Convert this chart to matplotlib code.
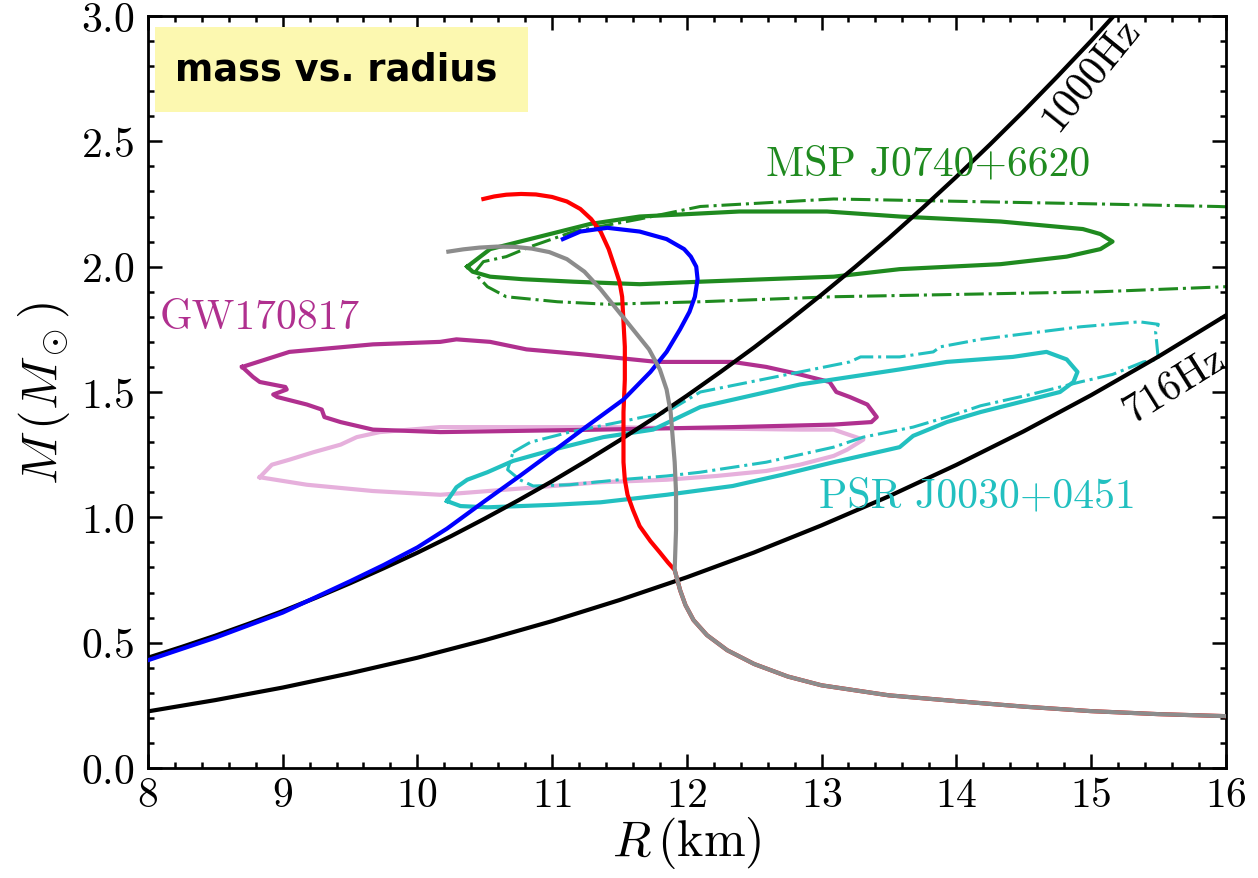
import matplotlib
matplotlib.use("Agg")
import matplotlib.pyplot as plt
from matplotlib.patches import Rectangle
from matplotlib.ticker import MultipleLocator

plt.rcParams['font.family'] = 'serif'
plt.rcParams['font.serif'] = ['cmr10']
plt.rcParams['mathtext.fontset'] = 'cm'
plt.rcParams['axes.formatter.use_mathtext'] = True

# ---------------- data ----------------
# Kepler (mass-shedding) frequency lines
kep1000_R = [8.0, 8.25, 8.5, 8.75, 9.0, 9.25, 9.5, 9.75, 10.0, 10.25, 10.5, 10.75, 11.0, 11.25, 11.5, 11.75,
             12.0, 12.25, 12.5, 12.75, 13.0, 13.25, 13.5, 13.75, 14.0, 14.25, 14.5, 14.75, 15.0, 15.25]
kep1000_M = [0.440, 0.483, 0.528, 0.576, 0.626, 0.680, 0.737, 0.797, 0.859, 0.925, 0.995, 1.068, 1.144, 1.224, 1.307, 1.394,
             1.485, 1.580, 1.678, 1.781, 1.888, 1.999, 2.114, 2.234, 2.358, 2.487, 2.620, 2.758, 2.900, 3.048]
kep716_R = [8.0, 8.5, 9.0, 9.5, 10.0, 10.5, 11.0, 11.5, 12.0, 12.5, 13.0, 13.5, 14.0, 14.5, 15.0, 15.5, 16.0]
kep716_M = [0.226, 0.271, 0.321, 0.378, 0.440, 0.510, 0.586, 0.670, 0.761, 0.860, 0.968, 1.084, 1.209, 1.343, 1.487, 1.641, 1.805]

# common crust tail of the EOS curves
tail_R = [16.0, 15.5, 15.0, 14.5, 14.0, 13.5, 13.0, 12.75, 12.5, 12.3, 12.15, 12.05, 11.99, 11.95, 11.93, 11.91]
tail_M = [0.207, 0.215, 0.227, 0.245, 0.267, 0.290, 0.330, 0.365, 0.415, 0.470, 0.530, 0.590, 0.650, 0.710, 0.750, 0.790]

red_R = [11.91, 11.86, 11.80, 11.73, 11.65, 11.60, 11.56, 11.54, 11.53, 11.53, 11.53, 11.54, 11.54, 11.53, 11.52, 11.50,
         11.47, 11.42, 11.36, 11.29, 11.21, 11.11, 11.00, 10.88, 10.77, 10.66, 10.57, 10.49]
red_M = [0.790, 0.820, 0.860, 0.905, 0.965, 1.030, 1.090, 1.150, 1.220, 1.320, 1.420, 1.550, 1.680, 1.780, 1.880, 1.940,
         1.990, 2.070, 2.140, 2.190, 2.230, 2.260, 2.278, 2.288, 2.290, 2.287, 2.280, 2.270]

gray_R = [11.91, 11.92, 11.92, 11.91, 11.88, 11.85, 11.80, 11.72, 11.60, 11.48, 11.36, 11.24, 11.11, 10.98, 10.85, 10.72,
          10.59, 10.46, 10.34, 10.23]
gray_M = [0.790, 0.950, 1.100, 1.220, 1.420, 1.510, 1.590, 1.670, 1.750, 1.830, 1.910, 1.980, 2.030, 2.058, 2.072, 2.079,
          2.080, 2.076, 2.069, 2.060]

blue_R = [8.0, 8.5, 9.0, 9.5, 9.75, 10.0, 10.22, 10.5, 10.76, 11.0, 11.25, 11.53, 11.73, 11.85, 11.95, 12.02, 12.06, 12.08, 12.07,
          12.03, 11.98, 11.85, 11.65, 11.41, 11.21, 11.08]
blue_M = [0.430, 0.520, 0.620, 0.745, 0.810, 0.880, 0.955, 1.065, 1.165, 1.260, 1.360, 1.470, 1.580, 1.660, 1.750, 1.820, 1.880, 1.950, 2.000,
          2.040, 2.070, 2.110, 2.140, 2.155, 2.140, 2.110]

# GW170817 credible regions
gw_dark_R = [8.70, 9.05, 9.67, 10.17, 10.29, 10.54, 10.81, 11.23, 11.78, 12.34, 12.59, 12.84, 13.06, 13.11, 13.21, 13.34, 13.41,
             13.37, 13.09, 12.34, 11.36, 10.17, 9.67, 9.43, 9.31, 9.29, 9.18, 8.96, 8.93, 9.03, 9.02, 8.83, 8.78, 8.70]
gw_dark_M = [1.60, 1.66, 1.69, 1.70, 1.71, 1.70, 1.67, 1.65, 1.62, 1.62, 1.60, 1.57, 1.54, 1.50, 1.48, 1.45, 1.40,
             1.38, 1.37, 1.36, 1.35, 1.34, 1.35, 1.38, 1.40, 1.43, 1.45, 1.48, 1.49, 1.51, 1.52, 1.54, 1.56, 1.60]
gw_light_R = [8.83, 8.92, 9.05, 9.23, 9.43, 9.55, 9.72, 10.17, 11.36, 12.84, 13.09, 13.31, 13.19, 13.09, 12.84, 12.59,
              12.22, 11.85, 11.36, 10.17, 9.67, 9.18, 8.83]
gw_light_M = [1.16, 1.21, 1.23, 1.26, 1.29, 1.32, 1.34, 1.36, 1.36, 1.35, 1.35, 1.31, 1.27, 1.245, 1.21, 1.185,
              1.165, 1.15, 1.14, 1.09, 1.105, 1.13, 1.16]

# PSR J0030+0451 credible regions
psr_solid_R = [10.22, 10.29, 10.37, 10.52, 10.71, 11.01, 11.38, 11.75, 12.10, 12.84, 13.58, 13.93, 14.42, 14.67, 14.82, 14.90,
               14.87, 14.77, 14.55, 14.18, 13.93, 13.68, 13.58, 13.09, 12.71, 12.34, 11.85, 11.36, 11.01, 10.52, 10.32, 10.22]
psr_solid_M = [1.065, 1.12, 1.15, 1.18, 1.225, 1.27, 1.32, 1.35, 1.44, 1.53, 1.59, 1.62, 1.64, 1.66, 1.63, 1.58,
               1.54, 1.50, 1.47, 1.42, 1.38, 1.325, 1.28, 1.22, 1.17, 1.125, 1.09, 1.06, 1.05, 1.04, 1.045, 1.065]
psr_dash_R = [10.71, 10.84, 11.13, 11.50, 11.85, 12.10, 12.84, 13.21, 13.29, 13.58, 13.83, 13.88, 14.18, 14.92, 15.36, 15.50,
              15.48, 15.50, 15.39, 15.16, 14.92, 14.55, 14.18, 13.93, 13.68, 13.31, 13.09, 12.59, 12.10, 11.85, 11.50, 11.13,
              10.86, 10.76, 10.67, 10.71]
psr_dash_M = [1.26, 1.30, 1.34, 1.38, 1.42, 1.50, 1.58, 1.62, 1.64, 1.64, 1.66, 1.68, 1.71, 1.76, 1.78, 1.77,
              1.74, 1.63, 1.62, 1.57, 1.54, 1.49, 1.445, 1.40, 1.36, 1.32, 1.28, 1.22, 1.18, 1.165, 1.15, 1.13,
              1.125, 1.15, 1.19, 1.26]

# MSP J0740+6620 credible regions
msp_solid_R = [10.37, 10.54, 10.91, 11.28, 11.65, 12.39, 13.04, 13.58, 14.33, 14.94, 15.07, 15.16, 15.07, 14.82, 14.33, 13.58,
               13.09, 12.59, 12.10, 11.65, 11.16, 10.78, 10.54, 10.41, 10.37]
msp_solid_M = [2.00, 2.07, 2.12, 2.17, 2.20, 2.22, 2.22, 2.20, 2.18, 2.15, 2.13, 2.10, 2.07, 2.04, 2.01, 1.99,
               1.96, 1.95, 1.94, 1.93, 1.94, 1.95, 1.96, 1.98, 2.00]
msp_dash_R = [16.5, 15.94, 15.07, 14.08, 13.09, 12.10, 11.65, 11.16, 10.84, 10.66, 10.49, 10.43, 10.45, 10.52, 10.66, 11.04,
              11.41, 12.10, 13.09, 14.08, 15.07, 16.0, 16.5]
msp_dash_M = [2.23, 2.24, 2.25, 2.26, 2.27, 2.24, 2.19, 2.14, 2.08, 2.04, 2.02, 1.98, 1.96, 1.92, 1.88, 1.86,
              1.85, 1.86, 1.88, 1.89, 1.90, 1.92, 1.93]

# ---------------- figure ----------------
fig = plt.figure(figsize=(12.58, 8.79), dpi=100)
ax = fig.add_axes([0.1176, 0.1251, 0.8567, 0.8556])

GREEN = '#1f8a1f'
CYAN = '#22c0c0'
MAG = '#b0308f'
PINK = '#e6b0dc'

ax.plot(gw_light_R, gw_light_M, color=PINK, lw=3.0, zorder=2)
ax.plot(gw_dark_R, gw_dark_M, color=MAG, lw=3.0, zorder=2)
ax.plot(psr_dash_R, psr_dash_M, color=CYAN, lw=2.2, ls='-.', zorder=2)
ax.plot(psr_solid_R, psr_solid_M, color=CYAN, lw=3.0, zorder=2)
ax.plot(msp_dash_R, msp_dash_M, color=GREEN, lw=2.2, ls='-.', zorder=2)
ax.plot(msp_solid_R, msp_solid_M, color=GREEN, lw=3.0, zorder=2)

ax.plot(kep1000_R, kep1000_M, color='black', lw=3.0, zorder=3)
ax.plot(kep716_R, kep716_M, color='black', lw=3.0, zorder=3)

ax.plot(tail_R + red_R[1:], tail_M + red_M[1:], color='red', lw=3.0, zorder=4)
ax.plot(blue_R, blue_M, color='blue', lw=3.0, zorder=5)
ax.plot(tail_R + gray_R[1:], tail_M + gray_M[1:], color='#8c8c8c', lw=3.0, zorder=6)

FS = 30
ax.text(13.79, 2.41, 'MSP J0740+6620', color=GREEN, fontsize=FS, ha='center', va='center')
ax.text(8.09, 1.80, 'GW170817', color=MAG, fontsize=FS, ha='left', va='center')
ax.text(14.16, 1.085, 'PSR J0030+0451', color=CYAN, fontsize=FS, ha='center', va='center')
ax.text(15.0, 2.77, '1000Hz', color='black', fontsize=FS, ha='center', va='center', rotation=51)
ax.text(15.62, 1.53, '716Hz', color='black', fontsize=FS, ha='center', va='center', rotation=32)

ax.add_patch(Rectangle((0.0065, 0.8723), 0.3461, 0.1131, transform=ax.transAxes,
                       facecolor='#fcf8b0', edgecolor='none', zorder=7))
ax.text(0.025, 0.929, 'mass vs. radius', transform=ax.transAxes, fontsize=26.5,
        fontweight='bold', family='DejaVu Sans', ha='left', va='center', zorder=8)

ax.set_xlim(8, 16)
ax.set_ylim(0, 3)
ax.xaxis.set_major_locator(MultipleLocator(1))
ax.xaxis.set_minor_locator(MultipleLocator(0.2))
ax.yaxis.set_major_locator(MultipleLocator(0.5))
ax.yaxis.set_minor_locator(MultipleLocator(0.1))
ax.tick_params(which='both', direction='in', top=True, right=True, width=1.8, labelsize=30)
ax.tick_params(which='major', length=10)
ax.tick_params(axis='x', which='major', pad=6)
ax.tick_params(axis='y', which='major', pad=10)
ax.tick_params(which='minor', length=4)
for s in ax.spines.values():
    s.set_linewidth(2.0)

ax.set_xlabel(r'$R\,(\mathrm{km})$', fontsize=36, labelpad=0)
ax.set_ylabel(r'$M\,(M_\odot)$', fontsize=36, labelpad=6)

fig.savefig('out.png', dpi=100)
